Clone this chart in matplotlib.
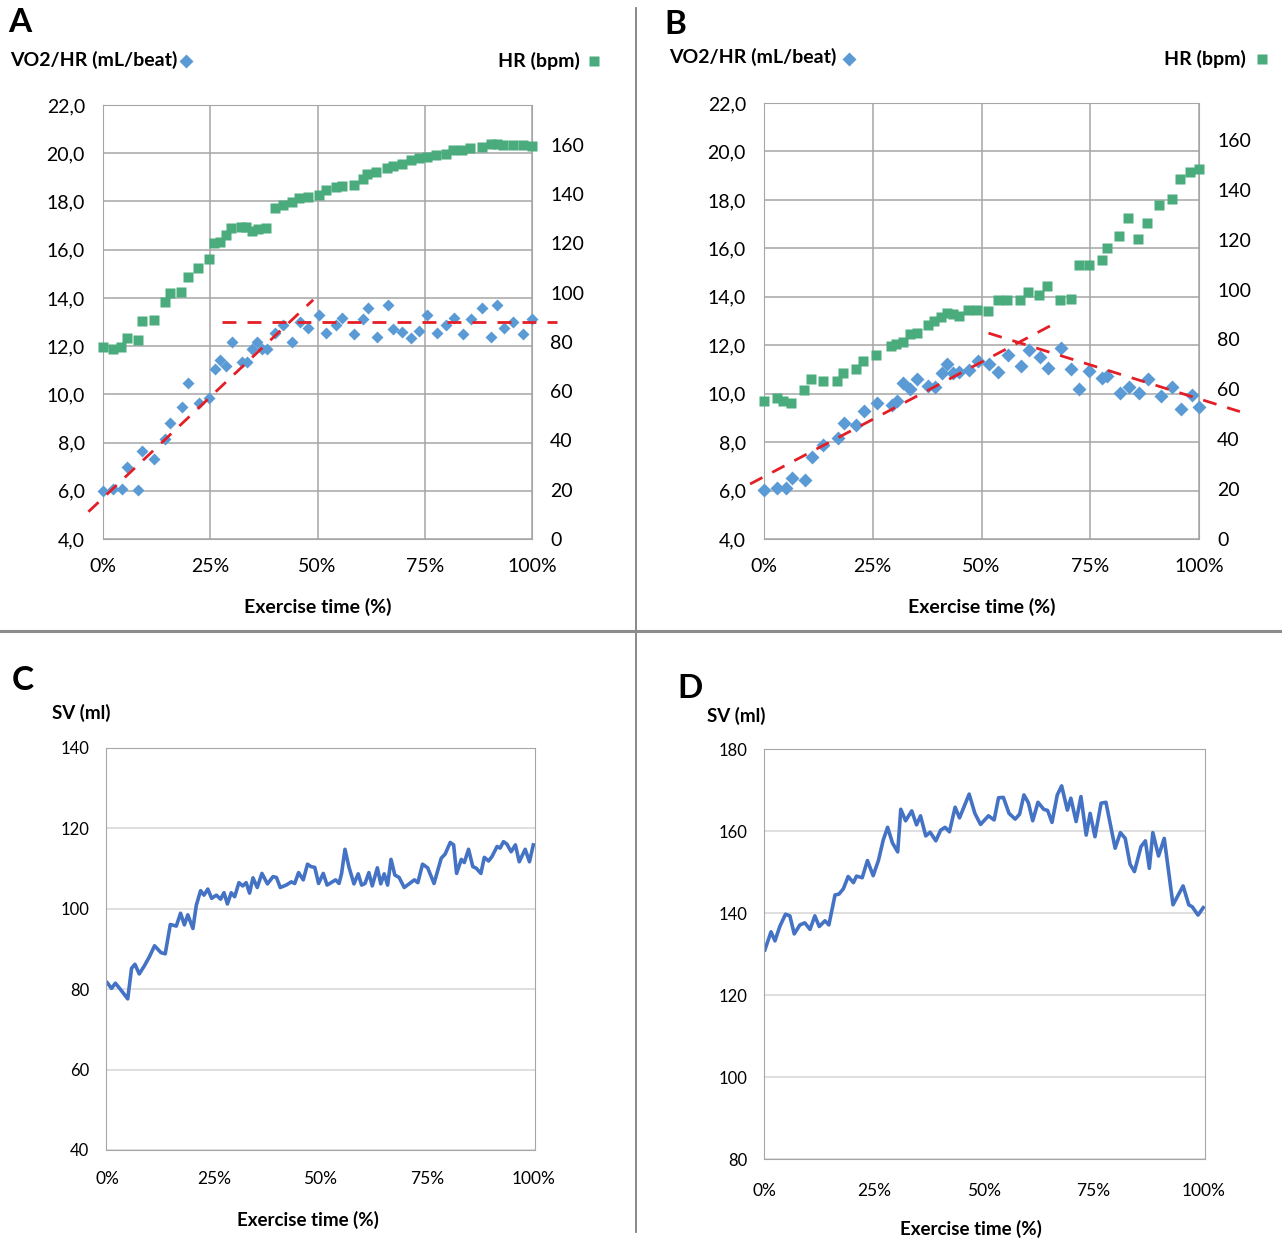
import numpy as np
import matplotlib
matplotlib.use('Agg')
import matplotlib.pyplot as plt
from matplotlib.lines import Line2D
from matplotlib.ticker import FuncFormatter

plt.rcParams['font.family'] = ['Lato', 'DejaVu Sans']

# ---- panel A : VO2/HR (diamonds, left axis) and HR (squares, right axis)
a_vo2_x = [0, 2.4, 4.4, 5.5, 8.1, 9.2, 12, 14.5, 15.6, 18.3, 19.7, 22.4, 24.7, 26.1, 27.3, 28.6,
           30, 32.3, 33.5, 34.8, 36, 37, 38.3, 40.2, 42, 44.1, 45.9, 47.9, 50.3, 52, 54.2, 55.8,
           58.5, 60.5, 61.8, 63.8, 66.4, 67.7, 69.8, 71.9, 73.7, 75.5, 77.8, 80, 81.8, 83.8,
           85.7, 88.4, 90.4, 91.8, 93.5, 95.6, 98, 100]
a_vo2 = [6.0, 6.07, 6.07, 7.0, 6.03, 7.65, 7.32, 8.15, 8.8, 9.49, 10.45, 9.66, 9.84, 11.04, 11.43,
         11.18, 12.19, 11.33, 11.36, 11.87, 12.19, 11.87, 11.87, 12.53, 12.88, 12.19, 13.02, 12.77,
         13.29, 12.53, 12.88, 13.18, 12.5, 13.12, 13.57, 12.37, 13.7, 12.7, 12.6, 12.33, 12.64,
         13.29, 12.53, 12.87, 13.16, 12.5, 13.12, 13.57, 12.37, 13.7, 12.77, 13.02, 12.5, 13.12]
a_hr_x = [0, 2.4, 4.2, 5.5, 8.1, 9.2, 11.9, 14.5, 15.6, 18.2, 19.7, 22.2, 24.7, 25.9, 27.3, 28.6,
          29.8, 32.2, 33.3, 34.8, 36.2, 38.1, 40.2, 42, 44, 45.8, 47.9, 50.3, 51.9, 54.2, 55.8,
          58.4, 60.5, 61.6, 63.6, 66.3, 67.5, 69.8, 71.9, 73.7, 75.5, 77.6, 79.9, 81.7, 83.6,
          85.5, 88.3, 90.4, 91.8, 93.3, 95.6, 97.8, 100]
a_hr = [78, 77.1, 78, 81.8, 80.7, 88.4, 88.8, 96.3, 99.7, 100.1, 106.2, 110.2, 113.5, 120, 120.6,
        123.3, 126.4, 126.7, 126.7, 125.1, 126, 126.4, 134.4, 135.5, 136.8, 138.5, 138.9, 139.8,
        141.6, 142.9, 143.3, 143.9, 146.3, 148.1, 149, 150.6, 151.4, 152.4, 153.8, 154.8, 155.1,
        156.1, 156.5, 157.8, 157.8, 158.9, 159.2, 160.2, 160.2, 159.8, 160.1, 160.1, 159.6]
a_trend1_x, a_trend1_y = [-3.4, 49.0], [5.13, 13.92]
a_trend2_x, a_trend2_y = [27.7, 105.8], [13.0, 13.0]

# ---- panel B
b_vo2_x = [0, 3.1, 5.1, 6.4, 9.4, 11, 13.6, 16.9, 18.4, 21.1, 23, 25.9, 29.4, 30.5, 32, 33.6,
           35.2, 37.8, 39.3, 40.9, 42, 43.5, 44.8, 47.2, 49.3, 51.7, 53.9, 56, 59.1, 61, 63.4,
           65.4, 68.3, 70.6, 72.4, 74.8, 77.6, 78.9, 81.8, 84, 86.2, 88.3, 91.2, 93.9, 95.8,
           98.3, 100]
b_vo2 = [6.02, 6.09, 6.09, 6.5, 6.44, 7.4, 7.88, 8.18, 8.78, 8.71, 9.29, 9.63, 9.54, 9.71, 10.43,
         10.18, 10.6, 10.33, 10.29, 10.87, 11.23, 10.85, 10.91, 10.98, 11.35, 11.21, 10.91, 11.6,
         11.16, 11.81, 11.51, 11.05, 11.9, 11.01, 10.18, 10.95, 10.66, 10.75, 10.02, 10.29, 10.02,
         10.6, 9.92, 10.29, 9.37, 9.95, 9.47]
b_hr_x = [0, 2.9, 4.4, 6.1, 9.3, 10.8, 13.6, 16.7, 18.1, 21.1, 22.8, 25.7, 29.1, 30.3, 32, 33.6,
          35.1, 37.8, 39.1, 40.7, 42, 43.5, 44.8, 47, 49, 51.6, 53.9, 55.8, 58.9, 60.8, 63.2,
          65.1, 68, 70.5, 72.3, 74.6, 77.6, 78.9, 81.6, 83.7, 86, 88.1, 90.9, 93.7, 95.6, 97.9, 100]
b_hr = [55.5, 56.5, 55.5, 54.7, 59.6, 64.1, 63.5, 63.5, 66.5, 68.2, 71.5, 73.9, 77.2, 78.2, 78.8,
        82.3, 82.6, 85.9, 87.3, 89, 90.6, 90.2, 89.6, 92, 92, 91.6, 95.7, 95.7, 95.7, 98.9, 97.7,
        101.3, 95.7, 96.4, 110, 110, 111.8, 116.7, 121.4, 128.8, 120.4, 126.8, 134.1, 136.4,
        144.2, 147.1, 148.5]
b_trend1_x, b_trend1_y = [-3.2, 67.7], [6.27, 12.98]
b_trend2_x, b_trend2_y = [51.6, 109.4], [12.5, 9.26]

# ---- panel C : SV (ml)
c_x = [0, 1, 1.9, 3.2, 4.8, 5.7, 6.5, 7.5, 8.7, 9.9, 11.1, 12.6, 13.6, 14.8, 16.2, 17.2, 18.1,
       18.9, 20.1, 20.9, 21.9, 22.7, 23.6, 24.5, 25.6, 26.6, 27.4, 28.2, 29.1, 29.9, 30.9, 31.8,
       32.6, 33.4, 34.2, 35.2, 36.3, 37.6, 38.9, 39.7, 40.6, 42, 43.2, 44, 44.9, 46, 47, 47.8,
       48.7, 49.6, 50.7, 51.6, 53.6, 54.4, 55, 55.8, 56.7, 57.9, 58.9, 59.7, 60.5, 61.4, 62.2,
       63.4, 64.2, 65, 65.8, 66.6, 67.5, 68.5, 69.7, 72.1, 72.9, 74, 75.2, 76.7, 78.4, 79.3,
       80.5, 81.3, 82, 83.1, 83.8, 84.8, 85.8, 86.6, 87.7, 88.5, 89.5, 90.3, 91.5, 92.2, 93,
       93.8, 94.8, 95.8, 96.7, 98.1, 99.1, 100]
c_sv = [81.6, 80.2, 81.5, 79.8, 77.6, 85.2, 86.2, 83.8, 85.8, 88.1, 90.8, 89.1, 88.8, 96.1, 95.7,
        98.9, 96, 98.5, 95.1, 100.9, 104.5, 103.4, 104.9, 102.6, 103.4, 102.4, 104, 101.2, 104,
        103, 106.5, 105.7, 106.5, 103.9, 107.7, 105.3, 108.8, 106.2, 108, 107.8, 105.3, 105.9,
        106.7, 106.3, 109, 107.2, 111.1, 110.5, 110.3, 106.3, 108.8, 105.9, 107.2, 106.3, 108.8,
        114.8, 110.5, 106.2, 108.7, 105.9, 106.3, 109, 105.7, 110.2, 106.2, 108.7, 105.9, 112.3,
        108.4, 107.8, 105.3, 107.2, 106.5, 111.1, 110.2, 106.3, 112.6, 113.6, 116.5, 115.9, 108.8,
        112.3, 111.5, 114.8, 110.5, 110.1, 108.8, 112.8, 111.9, 113, 115.5, 115.1, 116.7, 116.1,
        114.2, 115.9, 111.7, 114.8, 111.7, 115.9]

# ---- panel D : SV (ml)
d_x = [0, 1.4, 2.3, 3.4, 4.7, 5.7, 6.7, 8, 9.1, 10.3, 11.4, 12.4, 13.7, 14.6, 16, 16.9, 17.9, 19,
       20.2, 20.9, 22.2, 23.4, 24.7, 25.9, 27, 28, 29.1, 30.3, 31, 32.1, 33.5, 34.6, 35.5, 36.7,
       37.7, 39, 40.1, 41.1, 42.1, 43.4, 44.4, 46.6, 47.9, 49.2, 51, 52.3, 53.3, 54.4, 55.7,
       57.1, 58.1, 59.1, 60.1, 61.1, 62.3, 63.6, 64.5, 65.5, 66.7, 67.7, 69, 69.8, 71, 72.1,
       73.3, 74.2, 75.3, 76.7, 77.8, 79.9, 81.1, 82.2, 83.3, 84.3, 85.8, 86.8, 87.7, 88.5, 89.8,
       91.1, 93.1, 95.4, 96.7, 97.5, 98.8, 100]
d_sv = [131, 135.4, 133.2, 136.7, 139.7, 139.3, 134.9, 137.1, 137.6, 136, 139.3, 136.7, 138.1,
        137.1, 144.4, 144.6, 145.9, 148.9, 147.4, 149, 148.6, 152.8, 149.1, 152.8, 157.8, 160.9,
        157.1, 154.9, 165.3, 162.5, 164.9, 161.5, 163.7, 158.8, 159.7, 157.6, 160.2, 160.9, 159.8,
        165.8, 163.2, 169, 164.3, 161.6, 163.7, 162.7, 168.1, 168.2, 164.3, 162.9, 164.1, 168.8,
        166.9, 162.5, 167, 165.3, 165, 162.1, 168.8, 171, 165.1, 168, 162.3, 168.4, 159, 164.3,
        158.6, 166.8, 167, 155.8, 159.6, 158.2, 151.9, 150.1, 156.2, 157.6, 150.9, 159.6, 153.9,
        158.2, 142, 146.6, 142, 141.5, 139.5, 141.3]

pct_ticks = [0, 25, 50, 75, 100]
pct_labels = ['0%', '25%', '50%', '75%', '100%']

BLUE = '#5b9bd5'
GREEN = '#4aab7d'
RED = '#e41e26'
LINE = '#4472c4'
GRID = '#a6a6a6'
W, H = 1282, 1240

fig = plt.figure(figsize=(W / 100, H / 100), dpi=100)


def rect(l, t, r, b):
    return [l / W, 1 - b / H, (r - l) / W, (b - t) / H]


def fx(x, y):
    return x / W, 1 - y / H


def top_panel(box, vx, vy, hx, hy, trends, hr_top, ms):
    ax = fig.add_axes(box)
    ax.set_xlim(0, 100)
    ax.set_ylim(4, 22)
    ax.set_xticks(pct_ticks)
    ax.set_xticklabels(pct_labels)
    ax.set_yticks(np.arange(4, 22.1, 2))
    ax.yaxis.set_major_formatter(FuncFormatter(lambda v, p: f'{v:.1f}'.replace('.', ',')))
    ax.grid(True, color=GRID, lw=1.1)
    ax.set_axisbelow(True)
    for s in ax.spines.values():
        s.set_color(GRID)
    ax.tick_params(axis='y', length=0, labelsize=14, pad=13)
    ax.tick_params(axis='x', length=0, labelsize=14, pad=14)
    ax.set_xlabel('Exercise time (%)', fontsize=14, fontweight='bold', labelpad=16)
    ax.plot(vx, vy, 'D', color=BLUE, ms=ms, mec='none', clip_on=False, zorder=3)
    for tx, ty in trends:
        ax.plot(tx, ty, '--', color=RED, lw=2, dashes=(5, 4), clip_on=False, zorder=4)

    ax2 = ax.twinx()
    ax2.set_ylim(0, hr_top)
    ax2.set_yticks(range(0, 161, 20))
    ax2.tick_params(axis='y', length=0, labelsize=14, pad=13)
    for s in ax2.spines.values():
        s.set_visible(False)
    ax2.plot(hx, hy, 's', color=GREEN, ms=ms, mec='none', clip_on=False)
    return ax


def sv_panel(box, x, y, ylo, yhi, xlim, xpad, lpad, lab_x):
    ax = fig.add_axes(box)
    ax.plot(x, y, color=LINE, lw=2.6, solid_joinstyle='round')
    ax.set_xlim(xlim)
    ax.set_ylim(ylo, yhi)
    ax.set_xticks(pct_ticks)
    ax.set_xticklabels(pct_labels)
    ax.set_yticks(range(ylo, yhi + 1, 20))
    ax.yaxis.grid(True, color='#d9d9d9', lw=1.2)
    ax.set_axisbelow(True)
    for s in ax.spines.values():
        s.set_color(GRID)
    ax.tick_params(axis='y', length=0, labelsize=12, pad=12)
    ax.tick_params(axis='x', length=0, labelsize=12.5, pad=xpad)
    ax.set_xlabel('Exercise time (%)', fontsize=13.5, fontweight='bold', labelpad=lpad)
    ax.xaxis.label.set_x(lab_x)
    return ax


top_panel(rect(103, 105, 532, 539), a_vo2_x, a_vo2, a_hr_x, a_hr,
          [(a_trend1_x, a_trend1_y), (a_trend2_x, a_trend2_y)], 176.2, 6.5)
top_panel(rect(764, 103, 1199, 539), b_vo2_x, b_vo2, b_hr_x, b_hr,
          [(b_trend1_x, b_trend1_y), (b_trend2_x, b_trend2_y)], 174.8, 7.5)
sv_panel(rect(106, 748, 535, 1150), c_x, c_sv, 40, 140, (-0.3, 100.4), 15, 17, (308 - 106) / 429)
sv_panel(rect(764, 749, 1205, 1159), d_x, d_sv, 80, 180, (-0.2, 100.4), 17, 15, (971 - 764) / 441)

# headers, panel letters and key markers
def ftext(x, y, s, size, ha='left'):
    fig.text(*fx(x, y), s, fontsize=size, fontweight='bold', ha=ha, va='center')


def fmark(x, y, m, c, ms):
    fig.add_artist(Line2D([x / W], [1 - y / H], marker=m, color=c, ms=ms, mec='none',
                          transform=fig.transFigure))


ftext(8, 22, 'A', 24)
ftext(664, 25, 'B', 24)
ftext(12, 680, 'C', 24)
ftext(677, 689, 'D', 24)

ftext(10, 60, 'VO2/HR (mL/beat)', 14)
fmark(186, 61, 'D', BLUE, 7.5)
ftext(580, 61, 'HR (bpm)', 14, ha='right')
fmark(594, 61, 's', GREEN, 7.5)

ftext(669, 57, 'VO2/HR (mL/beat)', 14)
fmark(849, 59, 'D', BLUE, 7.5)
ftext(1246, 59, 'HR (bpm)', 14, ha='right')
fmark(1262, 59, 's', GREEN, 7.5)

ftext(52, 713, 'SV (ml)', 13.5)
ftext(707, 716, 'SV (ml)', 13.5)

# panel dividers
fig.add_artist(Line2D([636 / W, 636 / W], [1 - 8 / H, 1 - 1232 / H], color='#808080', lw=1.3,
                      transform=fig.transFigure))
fig.add_artist(Line2D([0, 1280 / W], [1 - 631 / H, 1 - 631 / H], color='#8c8c8c', lw=2.2,
                      transform=fig.transFigure))

fig.savefig('out.png', dpi=100, facecolor='white')
